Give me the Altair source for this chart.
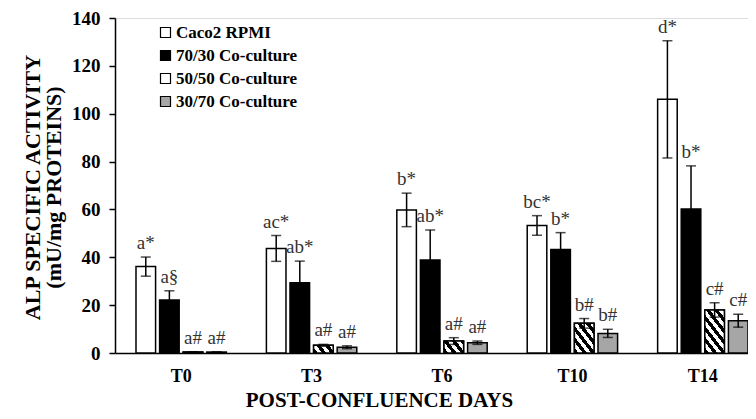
import altair as alt
import pandas as pd

times = ["T0", "T3", "T6", "T10", "T14"]
groups = ["Caco2 RPMI", "70/30 Co-culture", "50/50 Co-culture", "30/70 Co-culture"]

caco2 = [36.1, 43.7, 59.8, 53.3, 106.0]
caco2_err = [4.0, 5.4, 7.0, 4.1, 24.5]
co7030 = [22.1, 29.4, 38.9, 43.3, 60.2]
co7030_err = [3.9, 9.0, 12.5, 7.0, 18.0]
co5050 = [0.4, 3.2, 5.0, 12.4, 18.0]
co5050_err = [0.0, 0.4, 1.4, 2.0, 3.0]
co3070 = [0.4, 2.4, 4.3, 8.2, 13.5]
co3070_err = [0.0, 0.6, 0.7, 1.7, 2.7]

lab_caco2 = ["a*", "ac*", "b*", "bc*", "d*"]
lab_7030 = ["a§", "ab*", "ab*", "b*", "b*"]
lab_5050 = ["a#", "a#", "a#", "b#", "c#"]
lab_3070 = ["a#", "a#", "a#", "b#", "c#"]

series = [
    (groups[0], caco2, caco2_err, lab_caco2),
    (groups[1], co7030, co7030_err, lab_7030),
    (groups[2], co5050, co5050_err, lab_5050),
    (groups[3], co3070, co3070_err, lab_3070),
]

rows = []
for g, vals, errs, labs in series:
    for t, v, e, l in zip(times, vals, errs, labs):
        rows.append({"time": t, "group": g, "value": v, "lo": v - e, "hi": v + e, "label": l})
df = pd.DataFrame(rows)

# geometry used only for the hatch pattern style
W, H = 633, 335
YMAX = 140
px_per_unit = H / YMAX
x_step = W / (5 - 0.307 + 2 * 0.0805)
x_band = x_step * (1 - 0.307)
off_step = x_band / (4 - 0.17)
bar_w = off_step * (1 - 0.17)


def hatch(h_px, w_px, k=1.3, period=11.0):
    h_px = max(h_px, 0.5)
    s = (k * w_px + h_px) / (k * k * w_px * w_px + h_px * h_px)
    x2 = k * w_px * s
    y2 = 1 - h_px * s
    span = k * w_px + h_px
    n = span / period
    stops = []
    i = 0
    while True:
        a = i / n
        b = (i + 0.5) / n
        c = (i + 1) / n
        if a >= 1:
            break
        stops.append({"offset": round(min(a, 1), 4), "color": "black"})
        stops.append({"offset": round(min(b, 1), 4), "color": "black"})
        if b < 1:
            stops.append({"offset": round(b, 4), "color": "white"})
            stops.append({"offset": round(min(c, 1), 4), "color": "white"})
        i += 1
    return {"gradient": "linear", "x1": 0, "y1": 1, "x2": round(x2, 4), "y2": round(y2, 4), "stops": stops}


hatch_rows = []
for t, v in zip(times, co5050):
    hatch_rows.append({"time": t, "group": groups[2], "value": v,
                       "grad": hatch(v * px_per_unit, bar_w)})

FONT = "Liberation Serif"

x_enc = alt.X(
    "time:N", sort=times,
    scale=alt.Scale(paddingInner=0.307, paddingOuter=0.0805, align=1),
    axis=alt.Axis(
        title="POST-CONFLUENCE DAYS", labelAngle=0, ticks=False,
        labelFont=FONT, labelFontWeight="bold", labelFontSize=18, labelColor="black",
        labelPadding=14, domainColor="black", domainWidth=1.5,
        titleFont=FONT, titleFontWeight="bold", titleFontSize=21, titleColor="black",
        titleX=264, titleY=53, titleAlign="center", titleBaseline="alphabetic",
    ),
)
xo_enc = alt.XOffset("group:N", sort=groups, scale=alt.Scale(paddingInner=0.17, paddingOuter=0))
y_scale = alt.Scale(domain=[0, YMAX], nice=False)
y_enc = alt.Y(
    "value:Q", scale=y_scale,
    axis=alt.Axis(
        title=["ALP SPECIFIC ACTIVITY", "(mU/mg PROTEINS)"], values=list(range(0, 141, 20)),
        grid=False, tickSize=6, tickColor="black", tickWidth=1.5, domainColor="black", domainWidth=1.5,
        labelFont=FONT, labelFontWeight="bold", labelFontSize=19, labelColor="black", labelPadding=9,
        titleFont=FONT, titleFontWeight="bold", titleFontSize=22, titleColor="black",
        titleLineHeight=21, titleX=-83, titleY=169, titleAlign="center", titleBaseline="middle",
    ),
)

bars = alt.Chart(df).mark_bar(stroke="black", strokeWidth=1.5).encode(
    x=x_enc, xOffset=xo_enc, y=y_enc,
    fill=alt.Fill(
        "group:N", sort=groups,
        scale=alt.Scale(domain=groups, range=["white", "black", "white", "#a6a6a6"]),
        legend=alt.Legend(
            title=None, orient="none", legendX=42, legendY=6,
            symbolType="square", symbolSize=100, symbolStrokeColor="black", symbolStrokeWidth=1.2,
            labelFont=FONT, labelFontWeight="bold", labelFontSize=17, labelColor="black",
            labelOffset=2, rowPadding=5,
        ),
    ),
)

hatched = alt.Chart(alt.Data(values=hatch_rows)).mark_bar(stroke="black", strokeWidth=1.5).encode(
    x=alt.X("time:N", sort=times), xOffset=alt.XOffset("group:N", sort=groups),
    y=alt.Y("value:Q"),
    fill=alt.Fill("grad:N", scale=None),
)

err = alt.Chart(df).mark_rule(color="black", strokeWidth=1.5).encode(
    x=alt.X("time:N", sort=times), xOffset=alt.XOffset("group:N", sort=groups),
    y=alt.Y("lo:Q"), y2="hi:Q",
)
cap_hi = alt.Chart(df).mark_tick(color="black", thickness=1.5, size=10, orient="horizontal").encode(
    x=alt.X("time:N", sort=times), xOffset=alt.XOffset("group:N", sort=groups),
    y=alt.Y("hi:Q"),
)
cap_lo = alt.Chart(df).mark_tick(color="black", thickness=1.5, size=10, orient="horizontal").encode(
    x=alt.X("time:N", sort=times), xOffset=alt.XOffset("group:N", sort=groups),
    y=alt.Y("lo:Q"),
)
labels = alt.Chart(df).mark_text(
    font=FONT, fontSize=19, color="#333333", baseline="alphabetic", dy=-8
).encode(
    x=alt.X("time:N", sort=times), xOffset=alt.XOffset("group:N", sort=groups),
    y=alt.Y("hi:Q"), text="label:N",
)

chart = alt.layer(bars, hatched, err, cap_hi, cap_lo, labels).resolve_scale(
    fill="independent"
).properties(
    width=W, height=H,
    autosize=alt.AutoSizeParams(type="none"),
    padding={"left": 107, "top": 10, "right": 0, "bottom": 58},
).configure_view(stroke=None).configure(background="white")

chart.save("out.html", embed_options={"renderer": "svg", "actions": False})
